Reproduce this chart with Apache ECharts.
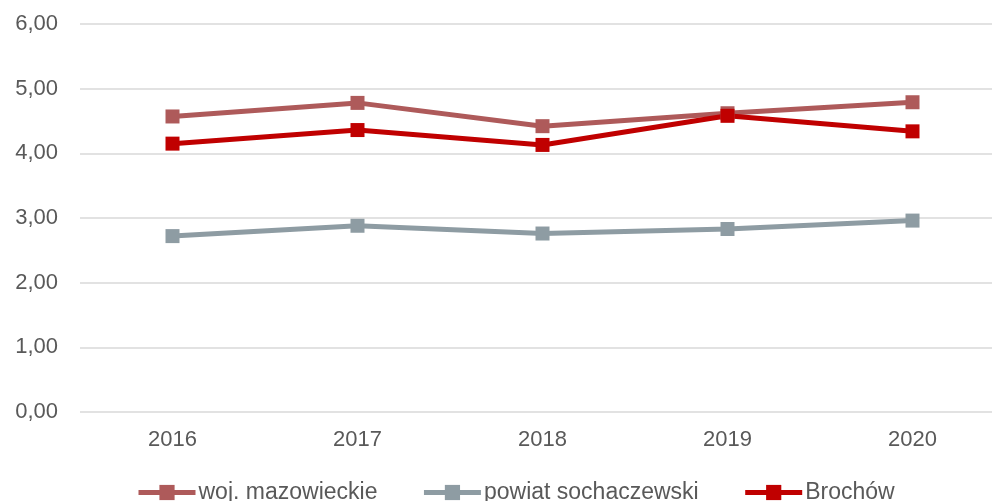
<!DOCTYPE html>
<html lang="pl">
<head>
  <meta charset="UTF-8">
  <title>Wskaźnik 2016-2020</title>
  <script src="https://cdn.jsdelivr.net/npm/echarts@6.0.0/dist/echarts.min.js"></script>
  <style>
    html, body { margin: 0; padding: 0; background: #fff; }
  </style>
</head>
<body>
  <div id="main" style="width: 992px;height:501px;"></div>
  <script type="text/javascript">
    // dane
    var years = ['2016', '2017', '2018', '2019', '2020'];
    var mazowieckie = [4.57, 4.78, 4.42, 4.62, 4.79];
    var sochaczewski = [2.72, 2.88, 2.76, 2.83, 2.96];
    var brochow = [4.15, 4.36, 4.13, 4.58, 4.34];

    var myChart = echarts.init(document.getElementById('main'));

    function lineSeries(name, data, color) {
      return {
        name: name,
        type: 'line',
        data: data,
        symbol: 'rect',
        symbolSize: 14,
        lineStyle: { color: color, width: 5 },
        itemStyle: { color: color },
        emphasis: { disabled: true }
      };
    }

    var option = {
      animation: false,
      textStyle: { fontFamily: 'Liberation Sans, Arial, sans-serif' },
      grid: { left: 80, top: 24, bottom: 89, width: 925, outerBoundsMode: 'none' },
      legend: {
        bottom: -3,
        left: 136,
        padding: 0,
        itemWidth: 57,
        itemHeight: 19,
        itemGap: 44,
        lineStyle: { width: 5 },
        textStyle: { fontSize: 23, color: '#595959', padding: [0, 0, 0, -2] },
        data: ['woj. mazowieckie', 'powiat sochaczewski', 'Brochów']
      },
      xAxis: {
        type: 'category',
        data: years,
        axisLine: { show: false },
        axisTick: { show: false },
        axisLabel: { fontSize: 22, color: '#595959', margin: 17 }
      },
      yAxis: {
        type: 'value',
        min: 0,
        max: 6,
        interval: 1,
        axisLabel: {
          fontSize: 22,
          color: '#595959',
          margin: 22,
          formatter: function (v) { return v.toFixed(2).replace('.', ','); }
        },
        splitLine: { lineStyle: { color: '#d9d9d9', width: 1.5 } }
      },
      series: [
        lineSeries('woj. mazowieckie', mazowieckie, '#AE5A5A'),
        lineSeries('powiat sochaczewski', sochaczewski, '#8E9CA3'),
        lineSeries('Brochów', brochow, '#C00000')
      ]
    };

    myChart.setOption(option);
  </script>
</body>
</html>
